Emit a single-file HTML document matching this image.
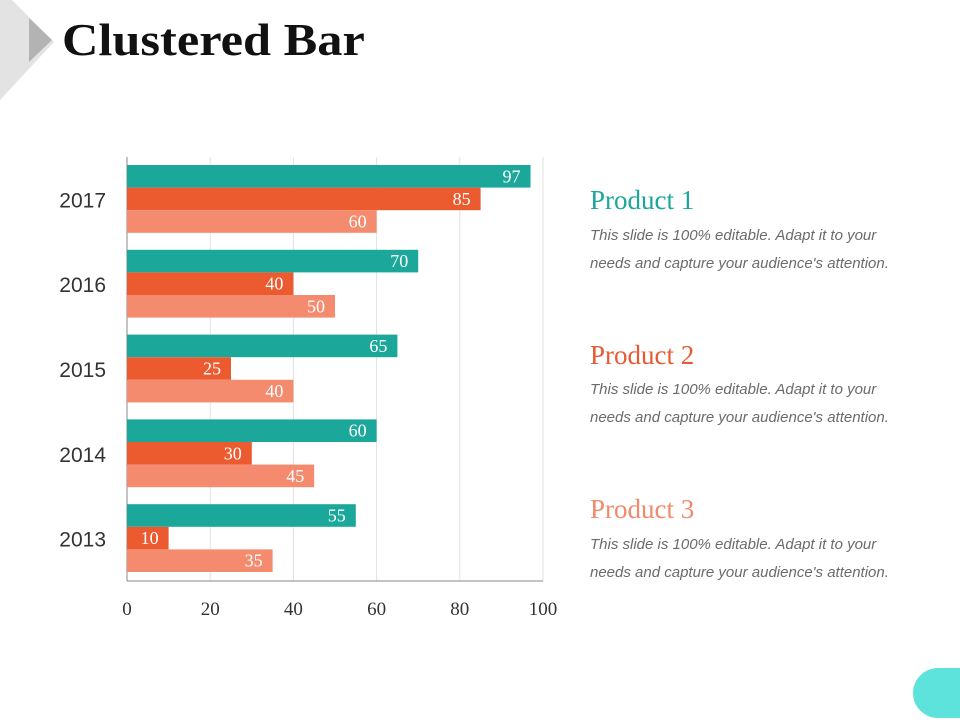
<!DOCTYPE html>
<html><head><meta charset="utf-8"><style>
body{margin:0;width:960px;height:720px;background:#fff;position:relative;overflow:hidden;font-family:"Liberation Sans",sans-serif}
.t{position:absolute}
.ph{font-family:"Liberation Serif",serif;font-size:27px}
.desc{font-style:italic;color:#6b6b6b;font-size:15px;line-height:28px;width:322px}
</style></head><body>
<svg class="t" style="left:0;top:0" width="960" height="720">
<polygon points="0,0 0,100 54,42 12,0" fill="#e3e3e3"/>
<polygon points="29,18 29,62 52,40" fill="#b3b3b3"/>
<rect x="913" y="668" width="80" height="50" rx="25" fill="#5ee3dc"/>
</svg>
<div class="t" style="left:62px;top:14px;font-family:'Liberation Serif',serif;font-weight:bold;font-size:45px;color:#111;transform:scaleX(1.12);transform-origin:left top">Clustered Bar</div>
<svg id="chart" class="t" style="left:0;top:0" width="960" height="720"></svg>
<div class="t ph" style="left:590px;top:185px;color:#1ba89b">Product 1</div>
<div class="t desc" style="left:590px;top:222px">This slide is 100% editable. Adapt it to your needs and capture your audience's attention.</div>
<div class="t ph" style="left:590px;top:340px;color:#e85a34">Product 2</div>
<div class="t desc" style="left:590px;top:376px">This slide is 100% editable. Adapt it to your needs and capture your audience's attention.</div>
<div class="t ph" style="left:590px;top:494px;color:#f08a6c">Product 3</div>
<div class="t desc" style="left:590px;top:531px">This slide is 100% editable. Adapt it to your needs and capture your audience's attention.</div>
<script>
const categories=["2017","2016","2015","2014","2013"];
const product1=[97,70,65,60,55];
const product2=[85,40,25,30,10];
const product3=[60,50,40,45,35];
const ticks=[0,20,40,60,80,100];
const svg=document.getElementById('chart');const NS='http://www.w3.org/2000/svg';
const x0=127,x1=543,y0=157,y1=581;
const xs=v=>x0+(x1-x0)*v/100;
const band=(y1-y0)/categories.length;
function mk(t,a){const e=document.createElementNS(NS,t);for(const k in a)e.setAttribute(k,a[k]);svg.appendChild(e);return e;}
ticks.forEach(t=>{
 const g=mk('line',{x1:xs(t),x2:xs(t),y1:y0,y2:y1,stroke:t==0?'#888':'#e2e2e2','stroke-width':1});
 
 
 const l=mk('text',{x:xs(t),y:615,'text-anchor':'middle','font-family':'Liberation Serif, serif','font-size':19,fill:'#333'});
 l.textContent=t;
 
 
});
const ax=mk('line',{x1:x0,x2:x1,y1:y1,y2:y1,stroke:'#888'});


const series=[[product1,'#1ba89b'],[product2,'#ec5a30'],[product3,'#f48b6e']];
const bh=22.6;
categories.forEach((c,i)=>{
 const by=y0+i*band;
 const lab=mk('text',{x:106,y:by+band/2+8,'text-anchor':'end','font-size':21,fill:'#333','font-family':'Liberation Sans, sans-serif'});
 lab.textContent=c;
 
 
 series.forEach((s,j)=>{
  const v=s[0][i];const y=by+8+j*bh;
  const r=mk('rect',{x:x0,y:y,width:xs(v)-x0,height:bh,fill:s[1]});
  
  
  const t=mk('text',{x:xs(v)-10,y:y+bh/2+6,'text-anchor':'end','font-family':'Liberation Serif, serif','font-size':18,fill:'#fff'});
  t.textContent=v;
  
  
 });
});
</script>
</body></html>
